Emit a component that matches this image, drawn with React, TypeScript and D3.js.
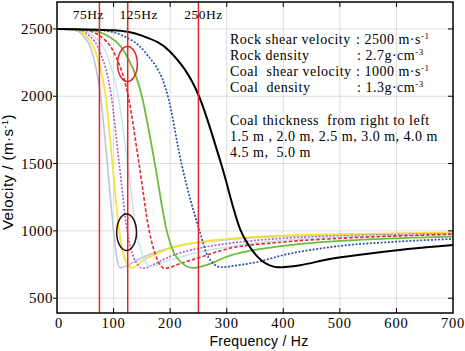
import React from "react";
import * as d3 from "d3";

// dispersion curves: [frequency Hz, velocity m/s]
const gray50: [number, number][] = [[0,2500],[31,2490],[46,2450],[62,2330],[77,2000],[89,1500],[100,1000],[106,790],[112,725],[125,745],[150,800],[200,875],[300,935],[400,960],[500,972],[600,980],[700,986]];
const yellow45: [number, number][] = [[0,2500],[34,2490],[51,2450],[68,2330],[86,2000],[98,1500],[110,1000],[120,790],[133,725],[150,775],[200,870],[300,940],[400,965],[500,975],[600,982],[700,988]];
const magenta40: [number, number][] = [[0,2500],[38,2490],[57,2450],[76,2330],[96,2000],[110,1500],[124,1000],[136,800],[152,722],[175,760],[200,810],[250,870],[300,905],[400,945],[500,962],[600,972],[700,980]];
const cyan35: [number, number][] = [[0,2500],[43,2490],[64,2450],[86,2330],[108,2000],[125,1500],[140,1000],[152,810],[165,735],[190,770],[250,840],[300,880],[400,930],[500,955],[600,965],[700,975]];
const red30: [number, number][] = [[0,2500],[50,2490],[75,2450],[100,2330],[126,2000],[145,1500],[163,1000],[176,800],[190,722],[220,760],[250,800],[300,865],[400,917],[500,945],[600,962],[700,975]];
const green25: [number, number][] = [[0,2500],[60,2490],[89,2450],[119,2330],[150,2000],[173,1500],[194,1000],[212,800],[240,725],[270,755],[300,808],[400,888],[500,925],[600,945],[700,957]];
const blue20: [number, number][] = [[0,2500],[78,2490],[116,2450],[155,2330],[196,2000],[220,1500],[252,1000],[268,800],[290,730],[320,745],[350,765],[400,820],[500,888],[600,920],[700,940]];
const black15: [number, number][] = [[0,2500],[100,2490],[150,2450],[200,2330],[251,2000],[290,1500],[325,1000],[350,830],[375,745],[390,730],[430,745],[480,790],[550,830],[620,865],[700,895]];

const xTicks = [0, 100, 200, 300, 400, 500, 600, 700];
const yTicks = [500, 1000, 1500, 2000, 2500];
const markFreqs = [75, 125, 250];
const markLabels = ["75Hz", "125Hz", "250Hz"];

const series = [
  { data: gray50, color: "#b9c6dc", dash: "", w: 1.6 },
  { data: yellow45, color: "#f4e43c", dash: "", w: 1.8 },
  { data: magenta40, color: "#b45ab9", dash: "2,1.6", w: 1.6 },
  { data: cyan35, color: "#c4e4ee", dash: "", w: 1.4 },
  { data: red30, color: "#e0262e", dash: "3.5,2", w: 1.6 },
  { data: green25, color: "#6cbd3a", dash: "", w: 1.8 },
  { data: blue20, color: "#2c4fa8", dash: "2,1.6", w: 1.7 },
  { data: black15, color: "#000000", dash: "", w: 2 },
];

const W = 465;
const H = 351;
const m = { left: 57, right: 453, top: 2, bottom: 313 };

const serif = "'Liberation Serif', 'Times New Roman', serif";
const sans = "'Liberation Sans', Arial, sans-serif";

const App: React.FC = () => {
  const x = d3.scaleLinear().domain([0, 700]).range([m.left, m.right]);
  const y = d3.scaleLinear().domain([390, 2700]).range([m.bottom, m.top]);
  const line = d3
    .line<[number, number]>()
    .x(d => x(d[0]))
    .y(d => y(d[1]))
    .curve(d3.curveMonotoneX);

  const infoX = 230;
  const valX = 356;
  const sup = (s: string) => (
    <tspan dy={-5} fontSize={9}>{s}</tspan>
  );

  return (
    <svg width={W} height={H} style={{ position: "absolute", left: 0, top: 0, background: "#fff" }}>
      <defs>
        <clipPath id="plot">
          <rect x={m.left} y={m.top} width={m.right - m.left} height={m.bottom - m.top} />
        </clipPath>
      </defs>

      {/* grid */}
      {xTicks.slice(1, -1).map(t => (
        <line key={"gx" + t} x1={x(t)} x2={x(t)} y1={m.top} y2={m.bottom} stroke="#dcdcdc" strokeWidth={1} />
      ))}
      {yTicks.map(t => (
        <line key={"gy" + t} x1={m.left} x2={m.right} y1={y(t)} y2={y(t)} stroke="#dcdcdc" strokeWidth={1} />
      ))}

      {/* curves */}
      <g clipPath="url(#plot)">
        {series.map((s, i) => (
          <path key={i} d={line(s.data) || ""} fill="none" stroke={s.color} strokeWidth={s.w} strokeDasharray={s.dash} />
        ))}
        {markFreqs.map(f => (
          <line key={"mk" + f} x1={x(f)} x2={x(f)} y1={m.top} y2={m.bottom} stroke="#e8222b" strokeWidth={1.5} />
        ))}
        <ellipse cx={x(124.5)} cy={y(2240)} rx={x(17.5) - x(0)} ry={y(2500) - y(2630)} fill="none" stroke="#e8222b" strokeWidth={1.5} />
        <ellipse cx={x(123)} cy={y(990)} rx={x(17.5) - x(0)} ry={y(2500) - y(2635)} fill="none" stroke="#2a0a0a" strokeWidth={1.5} />
      </g>

      {/* frame */}
      <rect x={m.left} y={m.top} width={m.right - m.left} height={m.bottom - m.top} fill="none" stroke="#000" strokeWidth={1.5} />

      {/* ticks */}
      {xTicks.slice(1, -1).map(t => (
        <g key={"tx" + t}>
          <line x1={x(t)} x2={x(t)} y1={m.bottom} y2={m.bottom - 5} stroke="#000" />
          <line x1={x(t)} x2={x(t)} y1={m.top} y2={m.top + 5} stroke="#000" />
        </g>
      ))}
      {yTicks.map(t => (
        <g key={"ty" + t}>
          <line x1={m.left - 4} x2={m.left} y1={y(t)} y2={y(t)} stroke="#000" />
          <line x1={m.right} x2={m.right - 5} y1={y(t)} y2={y(t)} stroke="#000" />
        </g>
      ))}

      {/* tick labels */}
      {xTicks.map(t => (
        <text key={"lx" + t} x={x(t) + (t === 0 ? 2 : 0)} y={328} textAnchor="middle" fontFamily={serif} fontSize={14.5} letterSpacing={0.8}>
          {t}
        </text>
      ))}
      {yTicks.map(t => (
        <text key={"ly" + t} x={53} y={y(t) + 5} textAnchor="end" fontFamily={serif} fontSize={15} letterSpacing={0.5}>
          {t}
        </text>
      ))}

      {/* axis titles */}
      <text x={259} y={346} textAnchor="middle" fontFamily={sans} fontSize={14} letterSpacing={0.3}>Frequency / Hz</text>
      <text transform="translate(13,172) rotate(-90)" textAnchor="middle" fontFamily={sans} fontSize={15} letterSpacing={0.5}>
        Velocity / (m·s<tspan dy={-5} fontSize={9}>-1</tspan><tspan dy={5}>)</tspan>
      </text>

      {/* frequency marker labels */}
      {markLabels.map((l, i) => (
        <text key={l} x={x(markFreqs[i]) + [-11, 11, 5][i]} y={19} textAnchor="middle" fontFamily={serif} fontSize={13.5} letterSpacing={0.5}>
          {l}
        </text>
      ))}

      {/* parameter block */}
      <g fontFamily={serif} fontSize={14} letterSpacing={0.5}>
        <text x={infoX} y={44}>Rock shear velocity</text>
        <text x={valX} y={44}>: 2500 m·s{sup("-1")}</text>
        <text x={infoX} y={60}>Rock density</text>
        <text x={valX + 1} y={60}>: 2.7g·cm{sup("-3")}</text>
        <text x={infoX} y={76} xmlSpace="preserve">Coal  shear velocity</text>
        <text x={valX} y={76}>: 1000 m·s{sup("-1")}</text>
        <text x={infoX} y={92} xmlSpace="preserve">Coal  density</text>
        <text x={valX + 1} y={92}>: 1.3g·cm{sup("-3")}</text>
        <text x={infoX} y={125} xmlSpace="preserve">Coal thickness  from right to left</text>
        <text x={infoX} y={141} xmlSpace="preserve">1.5 m , 2.0 m, 2.5 m, 3.0 m, 4.0 m</text>
        <text x={infoX} y={157} xmlSpace="preserve">4.5 m,  5.0 m</text>
      </g>
    </svg>
  );
};

export default App;
